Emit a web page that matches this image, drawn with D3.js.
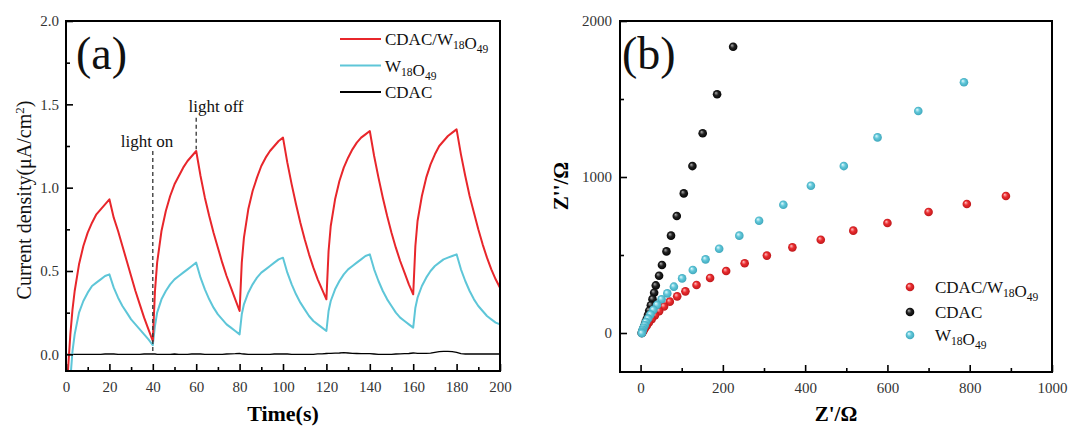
<!DOCTYPE html>
<html>
<head>
<meta charset="utf-8">
<script src="https://cdn.jsdelivr.net/npm/d3@7"></script>
<style>
  html, body { margin: 0; padding: 0; background: #fff; }
  svg { display: block; font-family: "Liberation Serif", "Times New Roman", serif; }
</style>
</head>
<body>
<svg id="chart" width="1069" height="430"></svg>
<script>
// ---------- Panel (a) data: photocurrent vs time ----------
const timeS = [0,1,2,3,4,6,8,10,12,14,16,18,20,22,24,26,28,30,32,34,36,38,
  40,41,42,44,46,48,50,52,54,56,58,60,62,64,66,68,70,72,74,76,78,
  80,81,82,84,86,88,90,92,94,96,98,100,102,104,106,108,110,112,114,116,118,
  120,121,122,124,126,128,130,132,134,136,138,140,142,144,146,148,150,152,154,156,158,
  160,161,162,164,166,168,170,172,174,176,178,180,182,184,186,188,190,192,194,196,198,200];

const cdacW18O49 = [-0.25,-0.08,0.12,0.27,0.38,0.54,0.65,0.73,0.79,0.84,0.87,0.90,0.93,0.82,0.74,0.65,0.56,0.47,0.38,0.30,0.22,0.15,
  0.08,0.38,0.55,0.74,0.86,0.95,1.02,1.07,1.12,1.16,1.19,1.22,1.07,0.94,0.83,0.73,0.64,0.55,0.47,0.40,0.33,
  0.26,0.55,0.70,0.87,0.98,1.06,1.13,1.18,1.22,1.25,1.28,1.30,1.15,1.02,0.90,0.79,0.69,0.60,0.52,0.45,0.39,
  0.33,0.62,0.77,0.93,1.04,1.12,1.18,1.23,1.27,1.30,1.32,1.34,1.19,1.06,0.94,0.83,0.73,0.64,0.56,0.49,0.42,
  0.36,0.65,0.80,0.95,1.06,1.14,1.20,1.25,1.28,1.31,1.33,1.35,1.20,1.07,0.95,0.85,0.75,0.66,0.58,0.51,0.45,0.40];

const w18O49 = [-0.6,-0.35,-0.15,0.02,0.12,0.25,0.32,0.37,0.41,0.43,0.45,0.47,0.48,0.40,0.34,0.29,0.25,0.21,0.18,0.15,0.12,0.09,
  0.055,0.17,0.25,0.33,0.38,0.42,0.45,0.47,0.49,0.51,0.53,0.55,0.46,0.39,0.33,0.28,0.24,0.21,0.18,0.16,0.14,
  0.12,0.24,0.30,0.37,0.42,0.46,0.49,0.51,0.53,0.55,0.57,0.58,0.49,0.42,0.36,0.31,0.27,0.23,0.20,0.18,0.16,
  0.14,0.26,0.32,0.39,0.44,0.48,0.51,0.53,0.55,0.57,0.59,0.60,0.51,0.44,0.38,0.33,0.29,0.25,0.22,0.20,0.18,
  0.16,0.28,0.34,0.41,0.46,0.50,0.53,0.55,0.57,0.58,0.59,0.60,0.51,0.44,0.38,0.33,0.29,0.26,0.23,0.21,0.19,0.18];

const cdacA = [0.0,0.0,0.0,0.0,0.0,0.0,0.0,0.0,0.0,0.0,0.0,0.002,0.003,0.002,0.0,0.0,0.0,0.0,0.0,0.0,0.002,0.002,
  0.003,0.002,0.0,0.0,0.0,0.0,0.002,0.0,0.0,0.0,0.002,0.003,0.002,0.0,0.0,0.0,0.0,0.0,0.002,0.003,0.004,
  0.006,0.003,0.002,0.0,0.0,0.0,0.0,0.0,0.0,0.002,0.002,0.003,0.002,0.0,0.0,0.0,0.0,0.0,0.0,0.003,0.003,
  0.005,0.006,0.006,0.007,0.008,0.010,0.008,0.006,0.005,0.004,0.004,0.004,0.002,0.0,0.0,0.0,0.0,0.002,0.003,0.004,0.005,
  0.008,0.007,0.006,0.006,0.006,0.007,0.012,0.016,0.018,0.018,0.016,0.012,0.004,0.002,0.002,0.002,0.002,0.002,0.002,0.002,0.002,0.002];

const aXTicks = [0,20,40,60,80,100,120,140,160,180,200];
const aXMinor = [10,30,50,70,90,110,130,150,170,190];
const aYTicks = [0.0,0.5,1.0,1.5,2.0];
const aYMinor = [0.25,0.75,1.25,1.75];

// ---------- Panel (b) data: Nyquist plots ----------
const nyqCdacW = [[888,878],[793,827],[700,776],[600,705],[517,656],[438,598],[369,549],[307,496],[253,447],[208,397],
  [169,353],[136,308],[109,267],[89,235],[71,201],[57,170],[45,140],[35,113],[27,88],[20,66],[15,47],[11,32],[8,20],[6,10],[4,3],[3,0]];
const nyqCdac = [[225,1835],[186,1530],[151,1280],[126,1070],[105,895],[88,750],[74,624],[63,523],[52,436],[45,367],
  [37,305],[33,258],[29,217],[25,178],[21,143],[18,115],[15,90],[12,68],[10,50],[8,35],[6,22],[5,12],[4,5],[3,0]];
const nyqW = [[786,1607],[675,1423],[576,1254],[494,1070],[414,944],[347,822],[288,720],[240,624],[191,540],[158,472],
  [127,404],[101,350],[81,297],[65,254],[51,216],[40,180],[31,148],[24,118],[18,92],[13,70],[10,50],[7,34],[5,20],[4,10],[3,3],[3,-2]];

const bXTicks = [0,200,400,600,800,1000];
const bXMinor = [100,300,500,700,900];
const bYTicks = [0,1000,2000];
const bYMinor = [500,1500];

// ---------- Drawing ----------
const RED = "#e8262b", CYAN = "#5ec6d8", BLACK = "#000";
const svg = d3.select("#chart");
const defs = svg.append("defs");

function gradient(id, c0, c1, c2) {
  const g = defs.append("radialGradient").attr("id", id)
    .attr("cx", "50%").attr("cy", "50%").attr("r", "55%")
    .attr("fx", "35%").attr("fy", "32%");
  g.append("stop").attr("offset", "0%").attr("stop-color", c0);
  g.append("stop").attr("offset", "45%").attr("stop-color", c1);
  g.append("stop").attr("offset", "100%").attr("stop-color", c2);
}
gradient("gRed", "#ffc4c4", "#ea2c2f", "#b81518");
gradient("gBlack", "#b0b0b0", "#222", "#000");
gradient("gCyan", "#e6fbff", "#62c8da", "#3aa3b8");

function frameAxes(g, x, y, xT, xM, yT, yM, xFmt, yFmt, xPad, yPad) {
  const [x0, x1] = x.range(), [y0, y1] = y.range();
  g.append("g").attr("transform", `translate(0,${y0})`)
    .call(d3.axisBottom(x).tickValues(xT).tickSizeInner(-7).tickSizeOuter(0).tickPadding(xPad).tickFormat(xFmt));
  g.append("g").attr("transform", `translate(0,${y0})`)
    .call(d3.axisBottom(x).tickValues(xM).tickSizeInner(-4).tickSizeOuter(0).tickFormat(""));
  g.append("g").attr("transform", `translate(${x0},0)`)
    .call(d3.axisLeft(y).tickValues(yT).tickSizeInner(-7).tickSizeOuter(0).tickPadding(yPad).tickFormat(yFmt));
  g.append("g").attr("transform", `translate(${x0},0)`)
    .call(d3.axisLeft(y).tickValues(yM).tickSizeInner(-4).tickSizeOuter(0).tickFormat(""));
  g.selectAll(".domain").remove();
  g.selectAll(".tick line").attr("stroke", "#000").attr("stroke-width", 1.6);
  g.selectAll(".tick text").attr("font-family", "Liberation Serif").attr("font-size", 15).attr("fill", "#333");
  g.append("rect").attr("x", x0).attr("y", y1).attr("width", x1 - x0).attr("height", y0 - y1)
    .attr("fill", "none").attr("stroke", "#000").attr("stroke-width", 2);
}

function subText(g, x, y, parts, size) {
  const t = g.append("text").attr("x", x).attr("y", y).attr("font-size", size).attr("fill", "#111");
  parts.forEach(([s, sub]) => {
    if (sub) {
      t.append("tspan").attr("font-size", size * 0.68).attr("dy", 4).text(s);
      t.append("tspan").attr("dy", -4).text("");
    } else {
      t.append("tspan").text(s);
    }
  });
  return t;
}

// ----- Panel (a) -----
const ga = svg.append("g");
const xa = d3.scaleLinear().domain([0, 200]).range([66, 500]);
const ya = d3.scaleLinear().domain([-0.1, 2.0]).range([371, 21]);

defs.append("clipPath").attr("id", "clipA").append("rect")
  .attr("x", 66).attr("y", 21).attr("width", 434).attr("height", 350);

const lineA = d3.line().x(d => xa(d[0])).y(d => ya(d[1])).curve(d3.curveLinear);
const plotA = ga.append("g").attr("clip-path", "url(#clipA)");
plotA.append("path").datum(timeS.map((t, i) => [t, cdacA[i]]))
  .attr("d", lineA).attr("fill", "none").attr("stroke", BLACK).attr("stroke-width", 1.4);
plotA.append("path").datum(timeS.map((t, i) => [t, w18O49[i]]))
  .attr("d", lineA).attr("fill", "none").attr("stroke", CYAN).attr("stroke-width", 2).attr("stroke-linejoin", "round");
plotA.append("path").datum(timeS.map((t, i) => [t, cdacW18O49[i]]))
  .attr("d", lineA).attr("fill", "none").attr("stroke", RED).attr("stroke-width", 2).attr("stroke-linejoin", "round");

// light on / off annotations
ga.append("line").attr("x1", xa(40)).attr("x2", xa(40)).attr("y1", ya(1.22)).attr("y2", ya(0.0))
  .attr("stroke", "#333").attr("stroke-width", 1.3).attr("stroke-dasharray", "4,3");
ga.append("line").attr("x1", xa(60)).attr("x2", xa(60)).attr("y1", ya(1.42)).attr("y2", ya(1.23))
  .attr("stroke", "#333").attr("stroke-width", 1.3).attr("stroke-dasharray", "4,3");
ga.append("text").attr("x", 147).attr("y", 147).attr("text-anchor", "middle").attr("font-size", 17).attr("fill", "#111").text("light on");
ga.append("text").attr("x", 216).attr("y", 112).attr("text-anchor", "middle").attr("font-size", 17).attr("fill", "#111").text("light off");

frameAxes(ga, xa, ya, aXTicks, aXMinor, aYTicks, aYMinor, d3.format("d"), d3.format(".1f"), 10, 7);

ga.append("text").attr("x", 76).attr("y", 69).attr("font-size", 46).attr("fill", "#111").text("(a)");

// legend (a)
const legA = [[RED, [["CDAC/W"], ["18", 1], ["O"], ["49", 1]]], [CYAN, [["W"], ["18", 1], ["O"], ["49", 1]]], [BLACK, [["CDAC"]]]];
legA.forEach(([c, parts], i) => {
  const yy = 39 + i * 26.5;
  ga.append("line").attr("x1", 340).attr("x2", 381).attr("y1", yy).attr("y2", yy).attr("stroke", c).attr("stroke-width", 2);
  subText(ga, 385, yy + 6, parts, 17);
});

ga.append("text").attr("transform", "translate(31,200) rotate(-90)").attr("text-anchor", "middle")
  .attr("font-size", 20).attr("fill", "#111")
  .call(t => { t.append("tspan").text("Current density(μA/cm"); t.append("tspan").attr("font-size", 13).attr("dy", -7).text("2"); t.append("tspan").attr("dy", 7).text(")"); });
ga.append("text").attr("x", 283).attr("y", 421).attr("text-anchor", "middle").attr("font-size", 22).attr("font-weight", "bold").attr("fill", "#000").text("Time(s)");

// ----- Panel (b) -----
const gb = svg.append("g");
const xb = d3.scaleLinear().domain([-50, 1000]).range([620, 1052]);
const yb = d3.scaleLinear().domain([-250, 2000]).range([372, 21]);

frameAxes(gb, xb, yb, bXTicks, bXMinor, bYTicks, bYMinor, d3.format("d"), d3.format("d"), 10, 8);

const series = [[nyqCdac, "url(#gBlack)"], [nyqCdacW, "url(#gRed)"], [nyqW, "url(#gCyan)"]];
series.forEach(([data, fill]) => {
  gb.append("g").selectAll("circle").data(data).join("circle")
    .attr("cx", d => xb(d[0])).attr("cy", d => yb(d[1])).attr("r", 4.3).attr("fill", fill);
});

gb.append("text").attr("x", 622).attr("y", 69).attr("font-size", 46).attr("fill", "#111").text("(b)");

const legB = [["url(#gRed)", [["CDAC/W"], ["18", 1], ["O"], ["49", 1]]], ["url(#gBlack)", [["CDAC"]]], ["url(#gCyan)", [["W"], ["18", 1], ["O"], ["49", 1]]]];
const legBY = [287, 312, 335];
legB.forEach(([f, parts], i) => {
  const yy = legBY[i];
  gb.append("circle").attr("cx", 910).attr("cy", yy).attr("r", 4.3).attr("fill", f);
  subText(gb, 935, yy + 6, parts, 17);
});

gb.append("text").attr("transform", "translate(561,186) rotate(-90)").attr("text-anchor", "middle")
  .attr("dominant-baseline", "central").attr("font-size", 21).attr("font-weight", "bold").attr("fill", "#000").text("Z''/Ω");
gb.append("text").attr("x", 836).attr("y", 421).attr("text-anchor", "middle").attr("font-size", 21).attr("font-weight", "bold").attr("fill", "#000").text("Z'/Ω");
</script>
</body>
</html>
